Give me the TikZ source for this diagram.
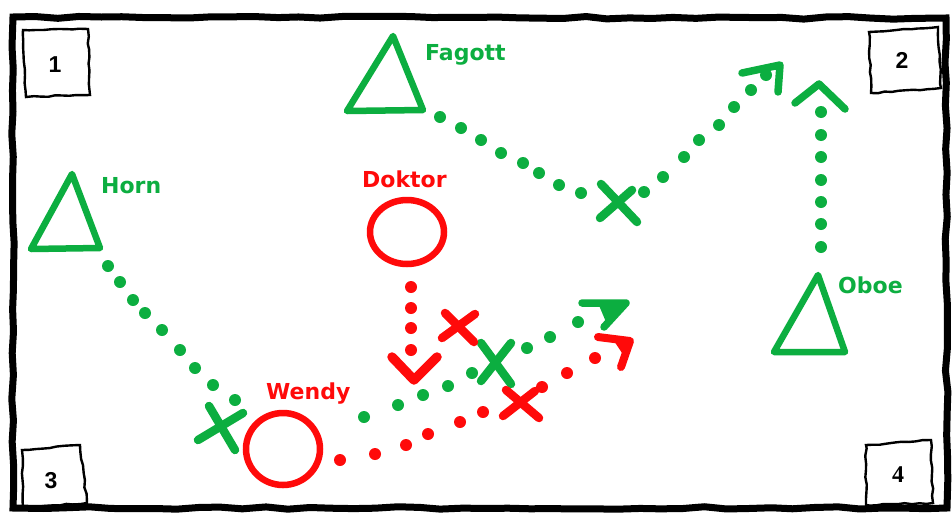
\documentclass[tikz,border=0pt]{standalone}
\usepackage{fontspec}
\newfontfamily\labfont{DejaVu Sans}
\newfontfamily\numfont{Liberation Sans}
\newfontfamily\numserif{Liberation Serif}
\usetikzlibrary{decorations.pathmorphing}
\definecolor{pgreen}{RGB}{12,174,64}
\definecolor{pred}{RGB}{255,10,10}
\begin{document}
\begin{tikzpicture}[x=1pt,y=-1pt,
  lab/.style={font=\labfont\bfseries\fontsize{22}{26}\selectfont, inner sep=0pt},
  numlab/.style={font=\numfont\bfseries\fontsize{23}{26}\selectfont, inner sep=0pt, anchor=base},
  tri/.style={draw=pgreen, line width=6.5, line join=round, line cap=round},
  ring/.style={draw=pred, line width=6.5},
  xstroke/.style={line width=8.5, line cap=round},
  headstroke/.style={line width=7.5, line cap=round, line join=round},
  corner/.style={draw=black, line width=2.4, decorate, decoration={random steps, segment length=7pt, amplitude=0.8pt}},
  frame/.style={draw=black, line width=7, decorate, decoration={random steps, segment length=22pt, amplitude=1.3pt}}
]
\useasboundingbox (0,0) rectangle (952,517);
\fill[white] (0,0) rectangle (952,517);

% outer frame
\draw[frame] (13,17) -- (946,18) -- (947,508) -- (13,508) -- cycle;

% corner boxes
\draw[corner] (23,30) -- (88,29) -- (90,95) -- (26,97) -- cycle;
\node[numlab] (n1) at (55,72) {1};
\draw[corner] (869,32) -- (938,27) -- (941,88) -- (871,93) -- cycle;
\node[numlab] (n2) at (902,68) {2};
\draw[corner] (22,450) -- (80,445) -- (87,503) -- (23,508) -- cycle;
\node[numlab] (n3) at (51,488) {3};
\draw[corner] (866,445) -- (931,440) -- (933,503) -- (866,505) -- cycle;
\node[numlab, font=\numserif\bfseries\fontsize{24}{26}\selectfont] (n4) at (898,482) {4};

% triangles (players)
\coordinate (fagA) at (393,36); \coordinate (fagB) at (347,111); \coordinate (fagC) at (423,110);
\draw[tri] (fagA) -- (fagB) -- (fagC) -- cycle;
\coordinate (hornA) at (72,174); \coordinate (hornB) at (31,249); \coordinate (hornC) at (100,248);
\draw[tri] (hornA) -- (hornB) -- (hornC) -- cycle;
\coordinate (oboeA) at (818,275); \coordinate (oboeB) at (774,352); \coordinate (oboeC) at (845,352);
\draw[tri] (oboeA) -- (oboeB) -- (oboeC) -- cycle;

% circles
\draw[ring] (407,232) ellipse[x radius=37, y radius=32];
\draw[ring] (283,449) ellipse[x radius=37, y radius=36];

% labels
\node[lab, text=pgreen, anchor=base west] (fagott) at (425,60) {Fagott};
\node[lab, text=pgreen, anchor=base west] (horn) at (101,193) {Horn};
\node[lab, text=pgreen, anchor=base west] (oboe) at (838,293) {Oboe};
\node[lab, text=pred, anchor=base west] (doktor) at (362,187) {Doktor};
\node[lab, text=pred, anchor=base west] (wendy) at (266,399) {Wendy};

% green dotted paths
\foreach \x/\y in {108/266,120/282,133/300,145/313,162/330,180/350,195/368,213/385,235/400}
  \fill[pgreen] (\x,\y) circle[radius=6pt];
\foreach \x/\y in {440/117,461/128,481/140,501/153,523/163,539/173,559/185,581/193,
                   644/192,663/177,684/157,699/140,719/125,734/107,751/90,766/75}
  \fill[pgreen] (\x,\y) circle[radius=6pt];
\foreach \y in {112,135,157,180,202,224,247}
  \fill[pgreen] (821,\y) circle[radius=6pt];
\foreach \x/\y in {364/417,398/405,423/395,448/386,472/373,527/348,550/337,578/322}
  \fill[pgreen] (\x,\y) circle[radius=6pt];

% red dotted paths
\foreach \y in {287,308,328,350}
  \fill[pred] (411,\y) circle[radius=6pt];
\foreach \x/\y in {340/460,375/454,406/445,428/434,460/422,483/412,542/387,567/373,595/358}
  \fill[pred] (\x,\y) circle[radius=6pt];

% green crosses
\draw[pgreen, xstroke] (601,184) -- (637,222);
\draw[pgreen, xstroke] (632,190) -- (600,218);
\draw[pgreen, xstroke] (209,406) -- (235,450);
\draw[pgreen, xstroke] (198,440) -- (243,413);
\draw[pgreen, xstroke] (481,343) -- (511,384);
\draw[pgreen, xstroke] (511,343) -- (481,381);

% red crosses
\draw[pred, xstroke] (445,313) -- (474,342);
\draw[pred, xstroke] (475,314) -- (442,338);
\draw[pred, xstroke] (506,390) -- (539,418);
\draw[pred, xstroke] (535,391) -- (503,416);

% arrow heads
\draw[pgreen, headstroke] (742,73) -- (780,65) -- (778,92);
\draw[pgreen, headstroke] (795,103) -- (819,84) -- (845,109);
\draw[pred, headstroke, line width=9.5] (392,357) -- (414,380) -- (437,357);
\draw[pgreen, headstroke] (582,303) -- (626,303) -- (604,327);
\fill[pgreen] (598,303) -- (626,303) -- (606,322) -- cycle;
\draw[pred, headstroke, line width=8] (598,337) -- (630,341) -- (621,367);
\fill[pred] (612,338) -- (630,341) -- (624,356) -- cycle;
\end{tikzpicture}
\end{document}
